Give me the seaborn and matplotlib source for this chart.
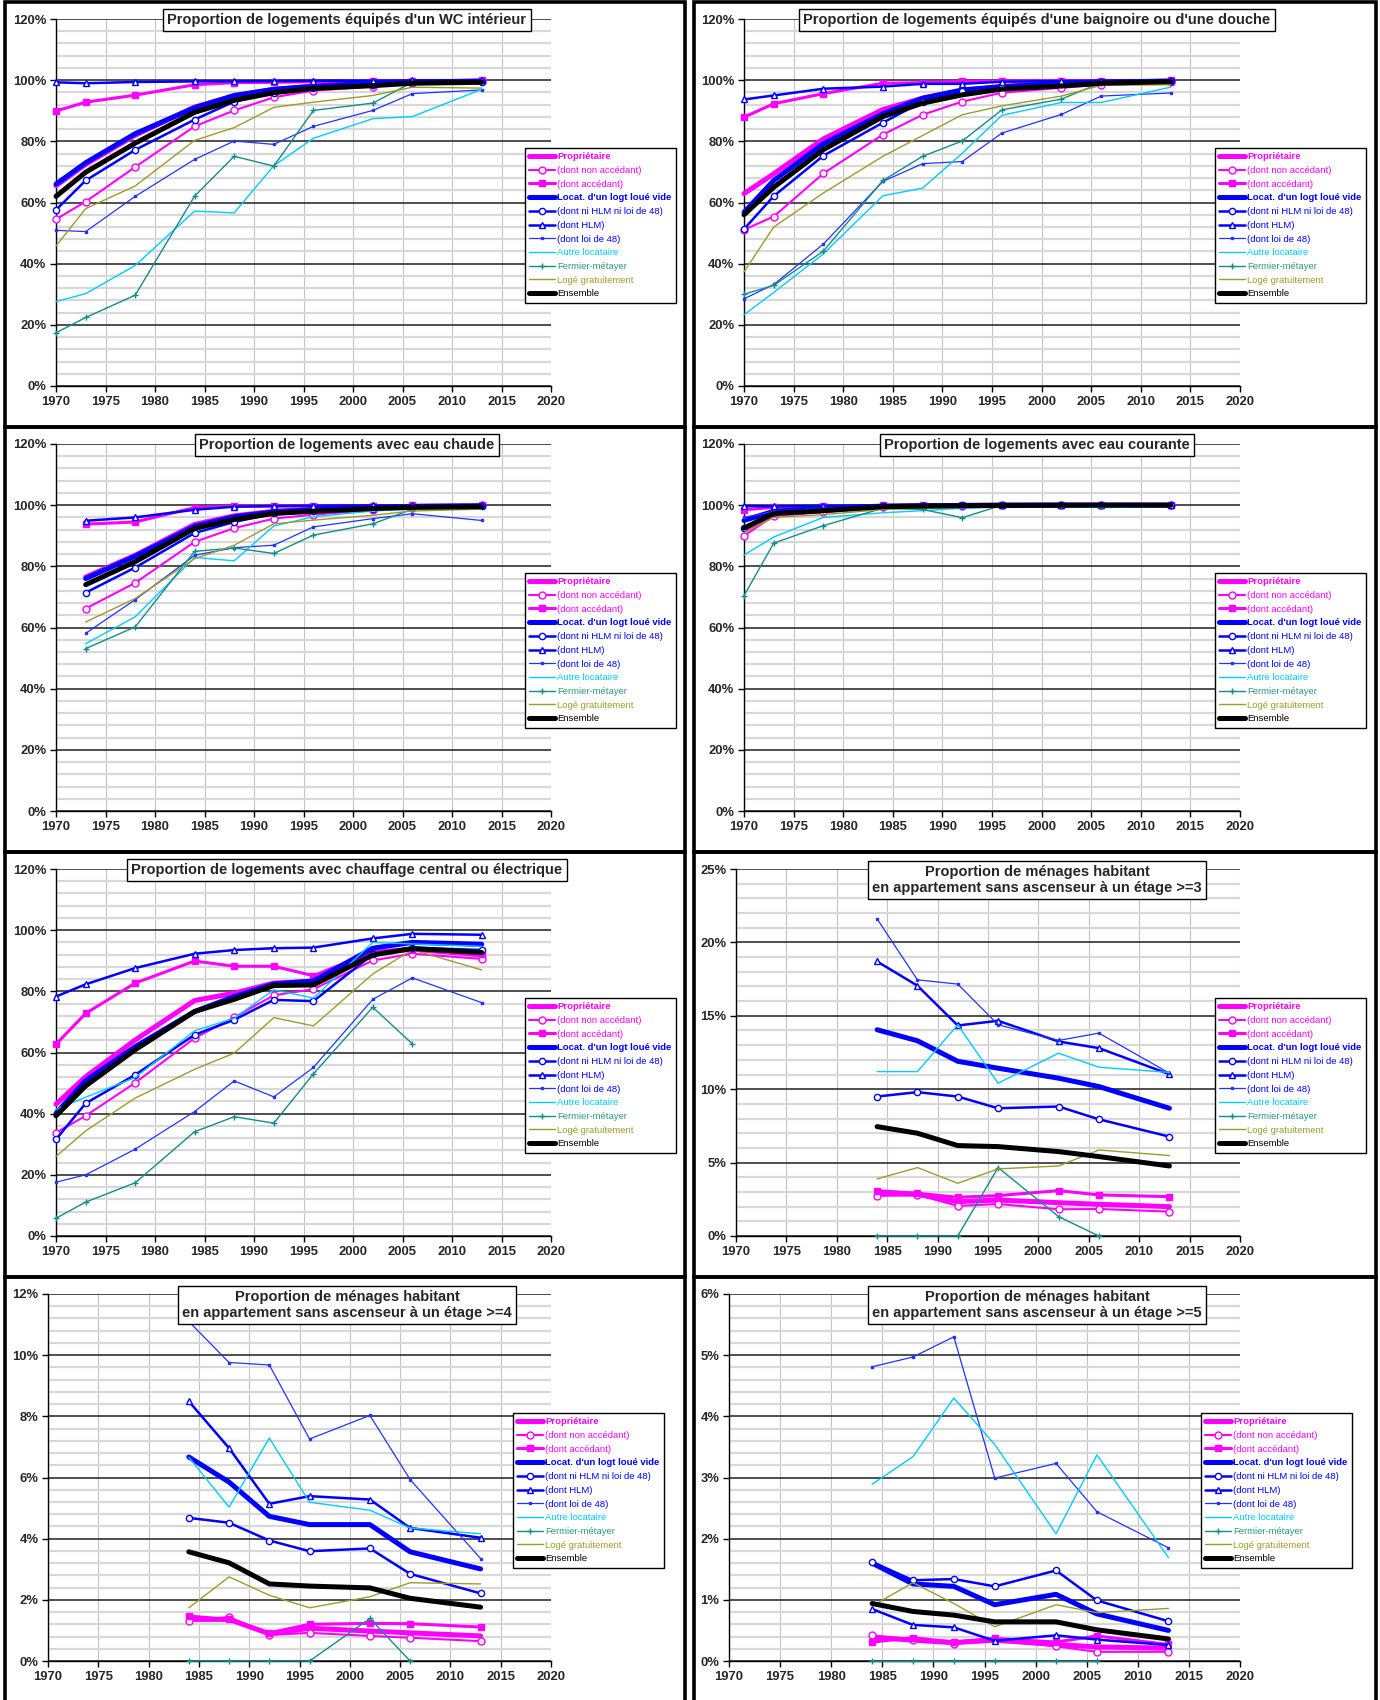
import numpy as np
import matplotlib
matplotlib.use("Agg")
import matplotlib.pyplot as plt
from matplotlib.patches import Rectangle
import seaborn as sns

nan = np.nan

YEARS = [1970, 1973, 1978, 1984, 1988, 1992, 1996, 2002, 2006, 2013]

SERIES = ["Propriétaire", "(dont non accédant)", "(dont accédant)",
          "Locat. d'un logt loué vide", "(dont ni HLM ni loi de 48)", "(dont HLM)",
          "(dont loi de 48)", "Autre locataire", "Fermier-métayer",
          "Logé gratuitement", "Ensemble"]

# values in %, one list per series, same order as SERIES
WC = [
    [65.5, 72.5, 82, 91.2, 94.8, 97, 98, 99, 99.4, 99.7],
    [54.5, 60.3, 71.6, 84.9, 90.1, 94.4, 96.6, 97.9, 99, 99.8],
    [89.9, 92.8, 95.1, 98.5, 99.2, 99.3, 99.5, 99.7, 99.8, 99.9],
    [66, 73, 82.5, 91, 95, 97, 98, 99, 99.4, 99.7],
    [57.6, 67.2, 77.2, 87.1, 93, 95.9, 97.5, 98.5, 99, 99.5],
    [99.3, 99, 99.4, 99.6, 99.6, 99.7, 99.8, 99.8, 99.9, 99.9],
    [50.9, 50.5, 62, 74.1, 80.1, 79, 84.9, 90.1, 95.6, 96.8],
    [27.6, 30.2, 39.4, 57.2, 56.6, 72, 81, 87.4, 88.1, 97],
    [17.4, 22.4, 29.7, 62.1, 75.1, 71.9, 90.1, 92.5, 99.3, nan],
    [45.8, 58, 65.4, 80.3, 84.5, 91.1, 92.8, 95, 97.7, 97.4],
    [62, 69.9, 79.4, 89.5, 93.4, 95.9, 97.3, 98.2, 99, 99.3],
]

BAIN = [
    [62.9, 69.4, 80.8, 90.4, 94.1, 96.6, 97.9, 98.8, 99.3, 99.7],
    [51.1, 55.4, 69.5, 82.2, 88.7, 93, 95.9, 97.5, 98.5, 99.3],
    [87.9, 92.3, 95.6, 99, 99.2, 99.6, 99.7, 99.8, 99.8, 99.9],
    [56.8, 67.2, 79.2, 89, 94.1, 96.8, 97.9, 98.9, 99.4, 99.7],
    [51.3, 62.1, 75.3, 86.1, 93, 96.5, 97.9, 98.8, 99.3, 99.7],
    [93.7, 95, 97.2, 97.9, 98.8, 98.8, 99.5, 99.7, 99.8, 99.9],
    [28.5, 33.2, 46.4, 66.9, 72.7, 73.4, 82.7, 88.8, 94.8, 95.8],
    [23.3, 30.6, 43.2, 62.2, 64.7, 76.1, 88.5, 92.7, 92.7, 97.7],
    [30, 32.9, 44.1, 67.2, 75.1, 80.1, 90.3, 93.8, 99.2, nan],
    [37.3, 52, 63.1, 75.1, 81.9, 88.7, 91.6, 94.8, 98.3, 98.5],
    [56, 65, 77.3, 88.1, 92.5, 95.2, 97.1, 98.1, 99, 99.5],
]

EAU_CHAUDE = [
    [nan, 76.5, 83.6, 93.7, 96.5, 98, 98.7, 99.3, 99.6, 99.8],
    [nan, 66.2, 74.6, 88, 92.5, 95.6, 96.9, 98.4, 99.1, 99.9],
    [nan, 93.8, 94.5, 99.2, 99.7, 99.7, 99.8, 99.8, 99.9, 99.9],
    [nan, 76, 83.3, 93.1, 96.2, 97.8, 98.5, 99.2, 99.6, 99.8],
    [nan, 71.4, 79.6, 90.9, 94.5, 97.3, 98, 98.9, 99.5, 99.8],
    [nan, 94.9, 96, 98.5, 99.5, 99.7, 99.8, 99.9, 99.9, 99.9],
    [nan, 58.1, 69.1, 83.6, 86.1, 86.9, 92.9, 95.6, 97.2, 95],
    [nan, 54.7, 63.5, 82.9, 81.8, 93.2, 96.2, 98.1, 98.7, 98.9],
    [nan, 53.1, 60.2, 84.9, 86, 84.2, 90.2, 93.9, 98.7, nan],
    [nan, 61.8, 69.5, 82.5, 86.9, 93.9, 95.1, 96.7, 98.1, 98.7],
    [nan, 74, 81.5, 92.4, 95.3, 97.3, 98, 98.9, 99.3, 99.5],
]

EAU_COURANTE = [
    [92, 97, 98.3, 99.6, 99.8, 99.9, 100, 100, 100, 100],
    [90, 96.5, 97.7, 99.5, 99.7, 99.8, 99.9, 100, 100, 100],
    [98.5, 99.3, 99.6, 99.9, 99.9, 100, 100, 100, 100, 100],
    [95, 98, 99, 99.7, 99.8, 99.9, 100, 100, 100, 100],
    [92.4, 97.5, 98.7, 99.6, 99.8, 99.9, 100, 100, 100, 100],
    [99.7, 99.6, 99.8, 99.9, 100, 100, 100, 100, 100, 100],
    [96, 98, 99, 99.6, 99.8, 99.9, 100, 100, 100, 100],
    [83.7, 89.6, 96, 97.5, 98.2, 99, 99.5, 99.6, 99.2, 99.5],
    [70.4, 87.6, 93.3, 99, 98.6, 95.9, 100, 99.8, 99.6, nan],
    [91, 96, 96.9, 98.6, 99, 99.3, 99.7, 99.8, 99.8, 99.9],
    [92.5, 97.3, 98.2, 99.5, 99.7, 99.8, 99.9, 100, 100, 100],
]

CHAUFFAGE = [
    [43.1, 52.1, 64.1, 77, 79.4, 82.7, 83.2, 92.7, 93.8, 91.9],
    [33.8, 39.3, 50.1, 64.7, 71.5, 78.7, 80.7, 90.1, 92.3, 90.6],
    [62.7, 72.8, 82.7, 89.9, 88.2, 88.2, 85.1, 93, 93.6, 92.1],
    [40.1, 50.8, 61.9, 73.4, 78.3, 82.4, 83.4, 94.1, 96, 95.4],
    [31.6, 43.4, 52.7, 65.8, 70.7, 77.2, 76.8, 92.1, 94.3, 93.5],
    [78.3, 82.3, 87.6, 92.3, 93.5, 94.1, 94.3, 97.3, 98.8, 98.5],
    [17.6, 20, 28.4, 40.7, 50.7, 45.5, 55.1, 77.4, 84.4, 76.3],
    [41.4, 45.4, 51.8, 67.1, 71.2, 80.5, 77.8, 96, 95.5, 94.7],
    [5.8, 11.1, 17.4, 34.1, 39, 36.9, 53, 74.8, 62.8, nan],
    [26, 34.4, 45.1, 54.5, 59.8, 71.4, 68.7, 85.7, 93.6, 87],
    [39.3, 49.1, 60.9, 73.4, 77.4, 81.9, 82.1, 91.9, 94, 92.7],
]

ETAGE3 = [
    [nan, nan, nan, 2.9, 2.84, 2.34, 2.45, 2.27, 2.16, 2.0],
    [nan, nan, nan, 2.73, 2.8, 2.05, 2.18, 1.82, 1.84, 1.66],
    [nan, nan, nan, 3.09, 2.91, 2.64, 2.75, 3.09, 2.8, 2.68],
    [nan, nan, nan, 14.05, 13.3, 11.9, 11.43, 10.75, 10.18, 8.7],
    [nan, nan, nan, 9.5, 9.8, 9.5, 8.7, 8.82, 7.95, 6.77],
    [nan, nan, nan, 18.7, 17.05, 14.34, 14.66, 13.25, 12.8, 11.02],
    [nan, nan, nan, 21.6, 17.45, 17.16, 14.39, 13.32, 13.82, 11.09],
    [nan, nan, nan, 11.2, 11.2, 14.39, 10.41, 12.45, 11.5, 11.14],
    [nan, nan, nan, 0, 0, 0, 4.66, 1.32, 0, nan],
    [nan, nan, nan, 3.89, 4.66, 3.59, 4.57, 4.77, 5.86, 5.48],
    [nan, nan, nan, 7.45, 7.0, 6.16, 6.09, 5.75, 5.41, 4.77],
]

ETAGE4 = [
    [nan, nan, nan, 1.36, 1.36, 0.89, 1.07, 0.98, 0.92, 0.82],
    [nan, nan, nan, 1.31, 1.44, 0.85, 0.92, 0.82, 0.76, 0.65],
    [nan, nan, nan, 1.47, 1.36, 0.92, 1.2, 1.23, 1.22, 1.11],
    [nan, nan, nan, 6.67, 5.85, 4.73, 4.46, 4.46, 3.57, 3.01],
    [nan, nan, nan, 4.68, 4.52, 3.94, 3.59, 3.68, 2.85, 2.21],
    [nan, nan, nan, 8.49, 6.96, 5.14, 5.39, 5.28, 4.35, 4.03],
    [nan, nan, nan, 11.1, 9.76, 9.68, 7.26, 8.03, 5.93, 3.35],
    [nan, nan, nan, 6.66, 5.03, 7.29, 5.19, 4.93, 4.35, 4.16],
    [nan, nan, nan, 0, 0, 0, 0, 1.39, 0, nan],
    [nan, nan, nan, 1.74, 2.75, 2.15, 1.74, 2.1, 2.56, 2.52],
    [nan, nan, nan, 3.57, 3.21, 2.52, 2.45, 2.39, 2.05, 1.76],
]

ETAGE5 = [
    [nan, nan, nan, 0.39, 0.34, 0.3, 0.34, 0.27, 0.23, 0.21],
    [nan, nan, nan, 0.42, 0.34, 0.28, 0.34, 0.24, 0.15, 0.15],
    [nan, nan, nan, 0.31, 0.38, 0.31, 0.37, 0.31, 0.41, 0.27],
    [nan, nan, nan, 1.6, 1.26, 1.22, 0.92, 1.09, 0.77, 0.5],
    [nan, nan, nan, 1.62, 1.32, 1.34, 1.22, 1.48, 0.99, 0.65],
    [nan, nan, nan, 0.85, 0.59, 0.55, 0.33, 0.42, 0.35, 0.26],
    [nan, nan, nan, 4.81, 4.97, 5.3, 2.99, 3.23, 2.44, 1.85],
    [nan, nan, nan, 2.89, 3.34, 4.3, 3.54, 2.08, 3.37, 1.69],
    [nan, nan, nan, 0, 0, 0, 0, 0, 0, nan],
    [nan, nan, nan, 0.9, 1.28, 0.94, 0.56, 0.92, 0.79, 0.86],
    [nan, nan, nan, 0.94, 0.81, 0.75, 0.64, 0.64, 0.51, 0.36],
]

TITLES = [
    "Proportion de logements équipés d'un WC intérieur",
    "Proportion de logements équipés d'une baignoire ou d'une douche",
    "Proportion de logements avec eau chaude",
    "Proportion de logements avec eau courante",
    "Proportion de logements avec chauffage central ou électrique",
    "Proportion de ménages habitant\nen appartement sans ascenseur à un étage >=3",
    "Proportion de ménages habitant\nen appartement sans ascenseur à un étage >=4",
    "Proportion de ménages habitant\nen appartement sans ascenseur à un étage >=5",
]
PANEL_DATA = [WC, BAIN, EAU_CHAUDE, EAU_COURANTE, CHAUFFAGE, ETAGE3, ETAGE4, ETAGE5]

# (ymax, major step, minor step)
Y_SCALES = [(120, 20, 4)] * 5 + [(25, 5, 1), (12, 2, 0.4), (6, 1, 0.2)]

# style per series: color, linewidth, marker, markersize, filled, text color, bold
MAG, BLU = "#FF00FF", "#0000FF"
STYLES = [
    (MAG, 3.6, None, 0, True, MAG, True),
    (MAG, 1.5, "o", 5, False, MAG, False),
    (MAG, 2.2, "s", 5, True, MAG, False),
    (BLU, 3.6, None, 0, True, BLU, True),
    (BLU, 1.8, "o", 4.5, False, BLU, False),
    (BLU, 1.8, "^", 5, False, BLU, False),
    ("#2233FF", 0.9, "s", 2, True, BLU, False),
    ("#00CCFF", 1.0, None, 0, True, "#00CCFF", False),
    ("#138C8C", 1.0, "+", 5, True, "#2E9C7A", False),
    ("#9C9C2A", 1.0, None, 0, True, "#9C9C2A", False),
    ("#000000", 3.6, None, 0, True, "#000000", False),
]

sns.set_theme(style="white")
plt.rcParams["font.family"] = ["Liberation Sans", "DejaVu Sans"]

W, H = 1380, 1700
fig = plt.figure(figsize=(W / 100, H / 100), dpi=100)

# axes left edge (panel-relative px) per panel, legend top-left
AX_LEFT = [56, 54, 56, 54, 56, 46, 48, 39]
LEG_POS = [(525, 148)] * 6 + [(513, 138), (511, 138)]

for i, (title, data) in enumerate(zip(TITLES, PANEL_DATA)):
    col, row = i % 2, i // 2
    x0, y0 = col * 690, row * 425
    right = 551 if col == 0 else 550
    left = AX_LEFT[i]
    top, bottom = 19, 386
    ax = fig.add_axes([(x0 + left) / W, 1 - (y0 + bottom) / H,
                       (right - left) / W, (bottom - top) / H])

    handles = []
    for name, vals, st in zip(SERIES, data, STYLES):
        color, lw, mk, ms, filled, _, _ = st
        kw = dict(color=color, linewidth=lw, label=name, zorder=3, clip_on=False)
        if mk:
            kw.update(marker=mk, markersize=ms, markeredgecolor=color,
                      markerfacecolor=color if filled else "white",
                      markeredgewidth=1.0)
        sns.lineplot(x=YEARS, y=np.array(vals, dtype=float), ax=ax,
                     estimator=None, sort=False, **kw)
        handles.append(ax.lines[-1])

    ymax, major, minor = Y_SCALES[i]
    ax.set_xlim(1970, 2020)
    ax.set_ylim(0, ymax)
    xt = list(range(1970, 2021, 5))
    ax.set_xticks(xt, labels=[str(v) for v in xt], fontweight="bold", fontsize=9.4)
    n_major = int(round(ymax / major))
    yt = [k * major for k in range(n_major + 1)]
    ax.set_yticks(yt, labels=[f"{v:g}%" for v in yt], fontweight="bold", fontsize=9.4)
    k = int(round(major / minor))
    ax.set_yticks([j * minor for j in range(n_major * k + 1) if j % k != 0], minor=True)

    ax.set_axisbelow(True)
    ax.grid(True, which="major", axis="x", color="#C4C4C4", linewidth=0.8)
    ax.grid(True, which="major", axis="y", color="#1E1E1E", linewidth=1.1)
    ax.grid(True, which="minor", axis="y", color="#D8D8D8", linewidth=1.6)
    ax.tick_params(which="major", length=4, width=1, color="black", direction="out",
                   pad=3, left=True, bottom=True)
    ax.tick_params(which="minor", length=0)
    for s in ["top", "right"]:
        ax.spines[s].set_visible(False)
    for s in ["left", "bottom"]:
        ax.spines[s].set_color("black")
        ax.spines[s].set_linewidth(1.0)
        ax.spines[s].set_zorder(2.5)
    ax.set_xlabel("")
    ax.set_ylabel("")

    lx, ly = LEG_POS[i]
    leg = ax.legend(handles, SERIES, loc="upper left",
                    bbox_to_anchor=((x0 + lx) / W, 1 - (y0 + ly) / H),
                    bbox_transform=fig.transFigure, fontsize=6.8,
                    frameon=True, fancybox=False, framealpha=1, edgecolor="black",
                    borderpad=0.45, handlelength=2.7, handletextpad=0.25,
                    labelspacing=0.5, borderaxespad=0)
    leg.set_zorder(6)
    leg.get_frame().set_linewidth(1.0)
    for txt, st in zip(leg.get_texts(), STYLES):
        txt.set_color(st[5])
        if st[6]:
            txt.set_fontweight("bold")

    ty = 30 if "\n" in title else 20
    fig.text((x0 + 347) / W, 1 - (y0 + ty) / H, title, ha="center", va="center",
             fontsize=10.5, fontweight="bold", linespacing=1.2, zorder=5,
             bbox=dict(boxstyle="square,pad=0.3", fc="white", ec="black", lw=1))

    # panel frame
    fx0, fx1 = (5, 685) if col == 0 else (694, 1376)
    fy0 = y0 + 2
    fy1 = y0 + 427 if row < 3 else H + 5
    fig.add_artist(Rectangle((fx0 / W, 1 - fy1 / H), (fx1 - fx0) / W, (fy1 - fy0) / H,
                             transform=fig.transFigure, fill=False,
                             edgecolor="black", linewidth=2.6))

fig.savefig("out.png", dpi=100)
